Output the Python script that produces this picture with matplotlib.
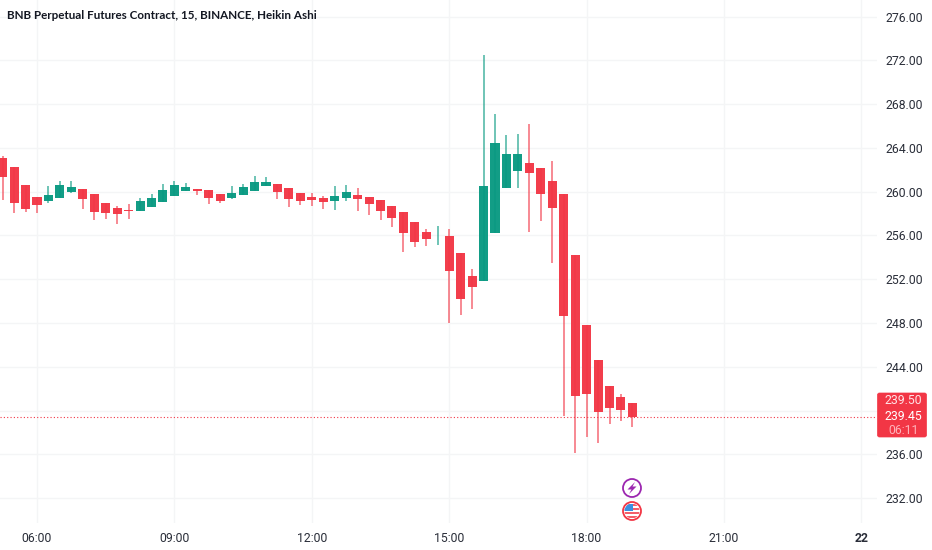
import matplotlib
matplotlib.use('Agg')
import matplotlib.pyplot as plt
from matplotlib.patches import Circle, FancyBboxPatch, Rectangle, Polygon
from matplotlib.transforms import IdentityTransform

# bar number, 0 = 06:00, one bar every 15 minutes
bars = list(range(-3, 53))
opens = [263.08, 262.23, 260.58, 259.52, 259.12, 259.46, 260.00, 260.25, 259.82, 259.00,
         258.54, 258.33, 258.21, 258.60, 259.03, 259.58, 260.06, 260.28, 260.16, 259.82,
         259.45, 259.67, 260.06, 260.49, 260.70, 260.31, 259.85, 259.52, 259.40, 259.18,
         259.40, 259.73, 259.55, 259.21, 258.72, 258.12, 257.20, 256.29, 256.02, 255.98,
         254.37, 252.30, 251.81, 256.20, 260.31, 261.86, 262.65, 262.16, 260.98, 259.79,
         254.19, 247.80, 244.60, 242.29, 241.25, 240.70]
closes = [261.34, 259.00, 258.39, 258.79, 259.73, 260.58, 260.46, 259.37, 258.15, 258.08,
          257.96, 258.27, 259.12, 259.40, 260.13, 260.61, 260.43, 260.03, 259.43, 259.15,
          259.85, 260.43, 260.92, 260.92, 259.97, 259.33, 259.18, 259.21, 259.09, 259.61,
          260.00, 259.36, 258.91, 258.27, 257.57, 256.26, 255.38, 255.68, 256.08, 252.73,
          250.23, 251.30, 260.55, 264.45, 263.41, 263.41, 261.68, 259.79, 258.51, 248.62,
          241.34, 241.50, 239.91, 240.22, 240.10, 239.45]
highs = [263.26, 262.23, 260.58, 259.52, 260.52, 260.98, 260.95, 260.25, 259.82, 259.00,
         258.70, 258.91, 259.45, 259.79, 260.67, 260.98, 260.82, 260.28, 260.16, 259.82,
         260.52, 260.70, 261.43, 261.31, 260.70, 260.31, 259.85, 259.85, 259.64, 260.52,
         260.58, 260.37, 259.55, 259.21, 258.72, 258.12, 257.20, 256.56, 256.84, 256.56,
         254.37, 252.91, 272.45, 267.06, 265.18, 265.24, 266.21, 262.16, 262.80, 259.79,
         254.19, 247.80, 244.60, 242.29, 241.50, 240.70]
lows = [259.24, 258.02, 258.18, 258.06, 259.00, 259.46, 259.91, 258.45, 257.42, 257.48,
        257.08, 257.48, 258.21, 258.60, 259.03, 259.58, 260.06, 259.70, 258.91, 258.94,
        259.30, 259.67, 260.06, 260.49, 259.36, 258.63, 258.82, 258.70, 258.45, 258.36,
        259.18, 258.21, 257.90, 257.41, 256.81, 254.52, 254.95, 255.04, 255.16, 248.04,
        248.74, 249.29, 251.81, 256.20, 260.31, 260.31, 256.35, 257.29, 253.52, 239.55,
        236.11, 237.63, 237.08, 238.82, 239.03, 238.54]

price_ticks = [276, 272, 268, 264, 260, 256, 252, 248, 244, 240, 236, 232]
price_labels = ['276.00', '272.00', '268.00', '264.00', '260.00', '256.00', '252.00',
                '248.00', '244.00', '', '236.00', '232.00']
time_ticks = [0, 12, 24, 36, 48, 60, 72]
time_labels = ['06:00', '09:00', '12:00', '15:00', '18:00', '21:00', '22']

last_price = 239.45
box_labels = ['239.50', '239.45', '06:11']

RED = '#f23645'
GREEN = '#089981'
plt.rcParams['font.family'] = ['Roboto', 'DejaVu Sans']

fig = plt.figure(figsize=(9.32, 5.5), dpi=100)
ax = fig.add_axes([0, 27 / 550, 877 / 932, 523 / 550])

# wicks then bodies
for b, o, c, h, l in zip(bars, opens, closes, highs, lows):
    col = GREEN if c >= o else RED
    ax.vlines(b, l, h, color=col, lw=1.2, alpha=0.68, zorder=2)
    ax.bar(b, abs(c - o), bottom=min(o, c), width=0.79, color=col, alpha=0.96, zorder=3)

ax.axhline(last_price, color=RED, lw=0.8, ls=(0, (1, 2)), zorder=4)

ax.set_xlim(-3.231, 73.36)
ax.set_ylim(229.74, 277.51)
ax.yaxis.tick_right()
ax.set_yticks(price_ticks)
ax.set_yticklabels(price_labels, fontsize=8.8, color='#2a2e39')
ax.set_xticks(time_ticks)
ax.set_xticklabels(time_labels, fontsize=8.8, color='#2a2e39')
ax.get_xticklabels()[-1].set_fontweight('bold')
ax.tick_params(axis='y', length=0, pad=5.8)
ax.tick_params(axis='x', length=0, pad=6.5)
ax.grid(True, color='#f4f5f6', lw=1)
ax.set_axisbelow(True)
for s in ax.spines.values():
    s.set_visible(False)

fig.text(7 / 932, 1 - 15.5 / 550, 'BNB Perpetual Futures Contract, 15, BINANCE, Heikin Ashi',
         family='Lato', fontweight='bold', fontsize=8.35, color='#131722', va='center')

# price box on the right, in pixels
px = IdentityTransform()
fig.add_artist(FancyBboxPatch((877.5, 550 - 437), 49, 44, boxstyle='round,pad=0,rounding_size=2',
                              fc=RED, ec=RED, lw=0.5, transform=px))
fig.text(903.5 / 932, 1 - 400.5 / 550, box_labels[0], color='#ffe3e6', fontsize=8.8, ha='center', va='center')
fig.text(903.5 / 932, 1 - 416 / 550, box_labels[1], color='white', fontsize=8.8, ha='center', va='center')
fig.text(903.5 / 932, 1 - 430 / 550, box_labels[2], color='#ffb3ba', fontsize=8.8, ha='center', va='center')

# event icons under the last bars
fig.add_artist(Circle((632, 550 - 488), 9, fc='white', ec='#9c27b0', lw=1.3, transform=px))
bolt = [(3, -6), (-4.5, 1.5), (-0.5, 1.5), (-3, 6), (4.5, -1.5), (0.5, -1.5)]
fig.add_artist(Polygon([(632 + dx, 550 - 488 - dy) for dx, dy in bolt], fc='#9c27b0', ec='none', transform=px))
fig.add_artist(Circle((632, 550 - 511), 9, fc='white', ec=RED, lw=1.3, transform=px))
for y in [504, 508, 512, 516]:
    st = Rectangle((623, 550 - y - 2), 18, 2, fc=RED, ec='none', transform=px, alpha=0.8)
    fig.add_artist(st)
    st.set_clip_path(Circle((632, 550 - 511), 7.5, transform=px))
cant = Rectangle((624, 550 - 511), 9, 7, fc='#3b8fe0', ec='none', transform=px)
fig.add_artist(cant)
cant.set_clip_path(Circle((632, 550 - 511), 7.5, transform=px))

fig.savefig('out.png', dpi=100)
